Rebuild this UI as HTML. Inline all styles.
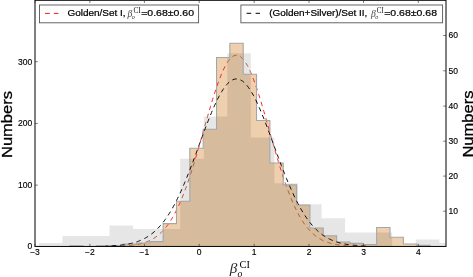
<!DOCTYPE html>
<html><head><meta charset="utf-8"><style>
html,body{margin:0;padding:0;background:#fff;}
body{width:473px;height:277px;overflow:hidden;}
svg{display:block;will-change:transform;}

</style></head><body>
<svg width="473" height="277" viewBox="0 0 473 277">
<defs><clipPath id="plot"><rect x="35" y="0" width="411" height="246.45"/></clipPath>
<clipPath id="gclip"><polygon points="38.85,246.45 38.85,242.94 62.41,242.94 62.41,235.91 85.97,235.91 85.97,235.91 109.52,235.91 109.52,225.38 133.08,225.38 133.08,228.89 156.64,228.89 156.64,228.89 180.20,228.89 180.20,158.65 203.76,158.65 203.76,116.51 227.31,116.51 227.31,53.29 250.87,53.29 250.87,137.58 274.43,137.58 274.43,183.23 297.99,183.23 297.99,204.31 321.55,204.31 321.55,218.35 345.10,218.35 345.10,232.40 368.66,232.40 368.66,232.40 392.22,232.40 392.22,246.45 415.78,246.45 415.78,239.43 439.34,239.43 439.34,242.94 445.70,242.94 445.70,246.45"/></clipPath>
<mask id="nogray" maskUnits="userSpaceOnUse" x="0" y="0" width="473" height="277"><rect width="473" height="277" fill="#fff"/><polygon points="38.85,246.45 38.85,242.94 62.41,242.94 62.41,235.91 85.97,235.91 85.97,235.91 109.52,235.91 109.52,225.38 133.08,225.38 133.08,228.89 156.64,228.89 156.64,228.89 180.20,228.89 180.20,158.65 203.76,158.65 203.76,116.51 227.31,116.51 227.31,53.29 250.87,53.29 250.87,137.58 274.43,137.58 274.43,183.23 297.99,183.23 297.99,204.31 321.55,204.31 321.55,218.35 345.10,218.35 345.10,232.40 368.66,232.40 368.66,232.40 392.22,232.40 392.22,246.45 415.78,246.45 415.78,239.43 439.34,239.43 439.34,242.94 445.70,242.94 445.70,246.45" fill="#000"/></mask></defs>
<rect width="473" height="277" fill="#fff"/>
<g clip-path="url(#plot)">
<polygon points="69.72,246.45 69.72,245.80 83.06,245.80 83.06,246.45 96.41,246.45 96.41,245.80 109.75,245.80 109.75,245.60 123.10,245.60 123.10,244.10 136.44,244.10 136.44,243.00 149.79,243.00 149.79,241.60 163.14,241.60 163.13,223.60 176.48,223.60 176.48,201.30 189.83,201.30 189.82,148.20 203.17,148.20 203.17,129.20 216.52,129.20 216.52,57.50 229.86,57.50 229.86,43.20 243.21,43.20 243.21,74.20 256.55,74.20 256.55,120.50 269.90,120.50 269.89,163.00 283.24,163.00 283.24,184.90 296.59,184.90 296.59,205.00 309.93,205.00 309.93,228.00 323.28,228.00 323.27,235.80 336.62,235.80 336.62,242.00 349.97,242.00 349.97,243.40 363.31,243.40 363.31,244.50 376.66,244.50 376.65,227.50 390.00,227.50 390.00,237.20 403.35,237.20 403.35,244.00 416.69,244.00 416.69,245.20 430.04,245.20 430.04,246.45" fill="#eed0af"/>
<path d="M120.11,246.09 L121.14,246.04 L122.17,246.00 L123.19,245.95 L124.22,245.89 L125.25,245.83 L126.27,245.76 L127.30,245.68 L128.33,245.60 L129.36,245.50 L130.38,245.40 L131.41,245.29 L132.44,245.17 L133.46,245.04 L134.49,244.89 L135.52,244.74 L136.55,244.57 L137.57,244.38 L138.60,244.18 L139.63,243.95 L140.65,243.72 L141.68,243.46 L142.71,243.18 L143.74,242.87 L144.76,242.54 L145.79,242.19 L146.82,241.81 L147.84,241.40 L148.87,240.96 L149.90,240.48 L150.93,239.98 L151.95,239.43 L152.98,238.85 L154.01,238.22 L155.03,237.56 L156.06,236.85 L157.09,236.09 L158.11,235.28 L159.14,234.42 L160.17,233.51 L161.20,232.55 L162.22,231.52 L163.25,230.44 L164.28,229.29 L165.30,228.08 L166.33,226.81 L167.36,225.46 L168.39,224.05 L169.41,222.56 L170.44,221.00 L171.47,219.37 L172.49,217.66 L173.52,215.87 L174.55,214.00 L175.58,212.04 L176.60,210.01 L177.63,207.90 L178.66,205.70 L179.68,203.42 L180.71,201.06 L181.74,198.61 L182.77,196.08 L183.79,193.47 L184.82,190.77 L185.85,188.00 L186.87,185.15 L187.90,182.22 L188.93,179.22 L189.96,176.15 L190.98,173.01 L192.01,169.80 L193.04,166.53 L194.06,163.20 L195.09,159.82 L196.12,156.39 L197.15,152.92 L198.17,149.40 L199.20,145.86 L200.23,142.28 L201.25,138.68 L202.28,135.07 L203.31,131.45 L204.34,127.82 L205.36,124.21 L206.39,120.60 L207.42,117.01 L208.44,113.46 L209.47,109.93 L210.50,106.46 L211.53,103.03 L212.55,99.66 L213.58,96.36 L214.61,93.14 L215.63,90.00 L216.66,86.95 L217.69,84.00 L218.72,81.15 L219.74,78.42 L220.77,75.82 L221.80,73.34 L222.82,71.00 L223.85,68.79 L224.88,66.74 L225.91,64.84 L226.93,63.10 L227.96,61.52 L228.99,60.12 L230.01,58.88 L231.04,57.82 L232.07,56.94 L233.10,56.24 L234.12,55.73 L235.15,55.40 L236.18,55.26 L237.20,55.30 L238.23,55.53 L239.26,55.95 L240.28,56.55 L241.31,57.33 L242.34,58.29 L243.37,59.44 L244.39,60.75 L245.42,62.24 L246.45,63.89 L247.47,65.71 L248.50,67.68 L249.53,69.80 L250.56,72.07 L251.58,74.48 L252.61,77.02 L253.64,79.68 L254.66,82.47 L255.69,85.36 L256.72,88.36 L257.75,91.45 L258.77,94.63 L259.80,97.89 L260.83,101.22 L261.85,104.62 L262.88,108.07 L263.91,111.57 L264.94,115.11 L265.96,118.68 L266.99,122.28 L268.02,125.89 L269.04,129.51 L270.07,133.14 L271.10,136.76 L272.13,140.36 L273.15,143.95 L274.18,147.51 L275.21,151.05 L276.23,154.54 L277.26,158.00 L278.29,161.41 L279.32,164.76 L280.34,168.06 L281.37,171.30 L282.40,174.48 L283.42,177.59 L284.45,180.63 L285.48,183.60 L286.51,186.49 L287.53,189.30 L288.56,192.04 L289.59,194.70 L290.61,197.27 L291.64,199.76 L292.67,202.17 L293.70,204.49 L294.72,206.74 L295.75,208.89 L296.78,210.97 L297.80,212.96 L298.83,214.88 L299.86,216.71 L300.89,218.46 L301.91,220.14 L302.94,221.74 L303.97,223.26 L304.99,224.72 L306.02,226.10 L307.05,227.41 L308.08,228.65 L309.10,229.83 L310.13,230.95 L311.16,232.01 L312.18,233.00 L313.21,233.94 L314.24,234.83 L315.27,235.66 L316.29,236.45 L317.32,237.18 L318.35,237.87 L319.37,238.52 L320.40,239.12 L321.43,239.69 L322.45,240.22 L323.48,240.71 L324.51,241.17 L325.54,241.59 L326.56,241.99 L327.59,242.36 L328.62,242.70 L329.64,243.02 L330.67,243.31 L331.70,243.58 L332.73,243.83 L333.75,244.06 L334.78,244.27 L335.81,244.47 L336.83,244.65 L337.86,244.81 L338.89,244.96 L339.92,245.10 L340.94,245.23 L341.97,245.34 L343.00,245.45 L344.02,245.55 L345.05,245.64 L346.08,245.72 L347.11,245.79 L348.13,245.86 L349.16,245.92 L350.19,245.97 L351.21,246.02 L352.24,246.06" fill="none" stroke="#ff1a1a" stroke-width="0.95" stroke-dasharray="4.5 3.9" stroke-dashoffset="7.62" mask="url(#nogray)"/>
<polygon points="38.85,246.45 38.85,242.94 62.41,242.94 62.41,235.91 85.97,235.91 85.97,235.91 109.52,235.91 109.52,225.38 133.08,225.38 133.08,228.89 156.64,228.89 156.64,228.89 180.20,228.89 180.20,158.65 203.76,158.65 203.76,116.51 227.31,116.51 227.31,53.29 250.87,53.29 250.87,137.58 274.43,137.58 274.43,183.23 297.99,183.23 297.99,204.31 321.55,204.31 321.55,218.35 345.10,218.35 345.10,232.40 368.66,232.40 368.66,232.40 392.22,232.40 392.22,246.45 415.78,246.45 415.78,239.43 439.34,239.43 439.34,242.94 445.70,242.94 445.70,246.45" fill="#000" fill-opacity="0.097"/>
<path d="M120.11,246.09 L121.14,246.04 L122.17,246.00 L123.19,245.95 L124.22,245.89 L125.25,245.83 L126.27,245.76 L127.30,245.68 L128.33,245.60 L129.36,245.50 L130.38,245.40 L131.41,245.29 L132.44,245.17 L133.46,245.04 L134.49,244.89 L135.52,244.74 L136.55,244.57 L137.57,244.38 L138.60,244.18 L139.63,243.95 L140.65,243.72 L141.68,243.46 L142.71,243.18 L143.74,242.87 L144.76,242.54 L145.79,242.19 L146.82,241.81 L147.84,241.40 L148.87,240.96 L149.90,240.48 L150.93,239.98 L151.95,239.43 L152.98,238.85 L154.01,238.22 L155.03,237.56 L156.06,236.85 L157.09,236.09 L158.11,235.28 L159.14,234.42 L160.17,233.51 L161.20,232.55 L162.22,231.52 L163.25,230.44 L164.28,229.29 L165.30,228.08 L166.33,226.81 L167.36,225.46 L168.39,224.05 L169.41,222.56 L170.44,221.00 L171.47,219.37 L172.49,217.66 L173.52,215.87 L174.55,214.00 L175.58,212.04 L176.60,210.01 L177.63,207.90 L178.66,205.70 L179.68,203.42 L180.71,201.06 L181.74,198.61 L182.77,196.08 L183.79,193.47 L184.82,190.77 L185.85,188.00 L186.87,185.15 L187.90,182.22 L188.93,179.22 L189.96,176.15 L190.98,173.01 L192.01,169.80 L193.04,166.53 L194.06,163.20 L195.09,159.82 L196.12,156.39 L197.15,152.92 L198.17,149.40 L199.20,145.86 L200.23,142.28 L201.25,138.68 L202.28,135.07 L203.31,131.45 L204.34,127.82 L205.36,124.21 L206.39,120.60 L207.42,117.01 L208.44,113.46 L209.47,109.93 L210.50,106.46 L211.53,103.03 L212.55,99.66 L213.58,96.36 L214.61,93.14 L215.63,90.00 L216.66,86.95 L217.69,84.00 L218.72,81.15 L219.74,78.42 L220.77,75.82 L221.80,73.34 L222.82,71.00 L223.85,68.79 L224.88,66.74 L225.91,64.84 L226.93,63.10 L227.96,61.52 L228.99,60.12 L230.01,58.88 L231.04,57.82 L232.07,56.94 L233.10,56.24 L234.12,55.73 L235.15,55.40 L236.18,55.26 L237.20,55.30 L238.23,55.53 L239.26,55.95 L240.28,56.55 L241.31,57.33 L242.34,58.29 L243.37,59.44 L244.39,60.75 L245.42,62.24 L246.45,63.89 L247.47,65.71 L248.50,67.68 L249.53,69.80 L250.56,72.07 L251.58,74.48 L252.61,77.02 L253.64,79.68 L254.66,82.47 L255.69,85.36 L256.72,88.36 L257.75,91.45 L258.77,94.63 L259.80,97.89 L260.83,101.22 L261.85,104.62 L262.88,108.07 L263.91,111.57 L264.94,115.11 L265.96,118.68 L266.99,122.28 L268.02,125.89 L269.04,129.51 L270.07,133.14 L271.10,136.76 L272.13,140.36 L273.15,143.95 L274.18,147.51 L275.21,151.05 L276.23,154.54 L277.26,158.00 L278.29,161.41 L279.32,164.76 L280.34,168.06 L281.37,171.30 L282.40,174.48 L283.42,177.59 L284.45,180.63 L285.48,183.60 L286.51,186.49 L287.53,189.30 L288.56,192.04 L289.59,194.70 L290.61,197.27 L291.64,199.76 L292.67,202.17 L293.70,204.49 L294.72,206.74 L295.75,208.89 L296.78,210.97 L297.80,212.96 L298.83,214.88 L299.86,216.71 L300.89,218.46 L301.91,220.14 L302.94,221.74 L303.97,223.26 L304.99,224.72 L306.02,226.10 L307.05,227.41 L308.08,228.65 L309.10,229.83 L310.13,230.95 L311.16,232.01 L312.18,233.00 L313.21,233.94 L314.24,234.83 L315.27,235.66 L316.29,236.45 L317.32,237.18 L318.35,237.87 L319.37,238.52 L320.40,239.12 L321.43,239.69 L322.45,240.22 L323.48,240.71 L324.51,241.17 L325.54,241.59 L326.56,241.99 L327.59,242.36 L328.62,242.70 L329.64,243.02 L330.67,243.31 L331.70,243.58 L332.73,243.83 L333.75,244.06 L334.78,244.27 L335.81,244.47 L336.83,244.65 L337.86,244.81 L338.89,244.96 L339.92,245.10 L340.94,245.23 L341.97,245.34 L343.00,245.45 L344.02,245.55 L345.05,245.64 L346.08,245.72 L347.11,245.79 L348.13,245.86 L349.16,245.92 L350.19,245.97 L351.21,246.02 L352.24,246.06" fill="none" stroke="#b85a24" stroke-width="0.95" stroke-dasharray="4.5 3.9" stroke-dashoffset="7.62" clip-path="url(#gclip)"/>
<path d="M69.72,246.45 L69.72,245.80 L83.06,245.80 L83.06,246.45 L96.41,246.45 L96.41,245.80 L109.75,245.80 L109.75,245.60 L123.10,245.60 L123.10,244.10 L136.44,244.10 L136.44,243.00 L149.79,243.00 L149.79,241.60 L163.14,241.60 L163.13,223.60 L176.48,223.60 L176.48,201.30 L189.83,201.30 L189.82,148.20 L203.17,148.20 L203.17,129.20 L216.52,129.20 L216.52,57.50 L229.86,57.50 L229.86,43.20 L243.21,43.20 L243.21,74.20 L256.55,74.20 L256.55,120.50 L269.90,120.50 L269.89,163.00 L283.24,163.00 L283.24,184.90 L296.59,184.90 L296.59,205.00 L309.93,205.00 L309.93,228.00 L323.28,228.00 L323.27,235.80 L336.62,235.80 L336.62,242.00 L349.97,242.00 L349.97,243.40 L363.31,243.40 L363.31,244.50 L376.66,244.50 L376.65,227.50 L390.00,227.50 L390.00,237.20 L403.35,237.20 L403.35,244.00 L416.69,244.00 L416.69,245.20 L430.04,245.20 L430.04,246.45" fill="none" stroke="#a3a6aa" stroke-width="1.1"/>
<path d="M105.73,246.10 L106.76,246.06 L107.79,246.02 L108.81,245.98 L109.84,245.93 L110.87,245.88 L111.89,245.82 L112.92,245.76 L113.95,245.70 L114.98,245.63 L116.00,245.55 L117.03,245.47 L118.06,245.38 L119.08,245.28 L120.11,245.17 L121.14,245.06 L122.17,244.94 L123.19,244.80 L124.22,244.66 L125.25,244.51 L126.27,244.34 L127.30,244.16 L128.33,243.97 L129.36,243.76 L130.38,243.54 L131.41,243.31 L132.44,243.05 L133.46,242.78 L134.49,242.49 L135.52,242.19 L136.55,241.86 L137.57,241.51 L138.60,241.13 L139.63,240.74 L140.65,240.31 L141.68,239.87 L142.71,239.39 L143.74,238.89 L144.76,238.35 L145.79,237.79 L146.82,237.19 L147.84,236.56 L148.87,235.89 L149.90,235.19 L150.93,234.45 L151.95,233.67 L152.98,232.85 L154.01,231.98 L155.03,231.08 L156.06,230.13 L157.09,229.14 L158.11,228.10 L159.14,227.01 L160.17,225.87 L161.20,224.68 L162.22,223.45 L163.25,222.16 L164.28,220.81 L165.30,219.42 L166.33,217.97 L167.36,216.46 L168.39,214.90 L169.41,213.28 L170.44,211.61 L171.47,209.87 L172.49,208.09 L173.52,206.24 L174.55,204.34 L175.58,202.38 L176.60,200.37 L177.63,198.30 L178.66,196.18 L179.68,194.00 L180.71,191.77 L181.74,189.49 L182.77,187.16 L183.79,184.78 L184.82,182.35 L185.85,179.88 L186.87,177.36 L187.90,174.81 L188.93,172.22 L189.96,169.59 L190.98,166.93 L192.01,164.23 L193.04,161.52 L194.06,158.78 L195.09,156.02 L196.12,153.24 L197.15,150.45 L198.17,147.66 L199.20,144.86 L200.23,142.06 L201.25,139.26 L202.28,136.47 L203.31,133.70 L204.34,130.94 L205.36,128.21 L206.39,125.50 L207.42,122.83 L208.44,120.19 L209.47,117.59 L210.50,115.04 L211.53,112.55 L212.55,110.10 L213.58,107.72 L214.61,105.41 L215.63,103.16 L216.66,100.99 L217.69,98.90 L218.72,96.90 L219.74,94.98 L220.77,93.15 L221.80,91.42 L222.82,89.79 L223.85,88.26 L224.88,86.84 L225.91,85.53 L226.93,84.33 L227.96,83.25 L228.99,82.28 L230.01,81.43 L231.04,80.71 L232.07,80.11 L233.10,79.63 L234.12,79.28 L235.15,79.05 L236.18,78.95 L237.20,78.98 L238.23,79.14 L239.26,79.43 L240.28,79.84 L241.31,80.37 L242.34,81.03 L243.37,81.81 L244.39,82.72 L245.42,83.74 L246.45,84.88 L247.47,86.13 L248.50,87.49 L249.53,88.96 L250.56,90.54 L251.58,92.22 L252.61,93.99 L253.64,95.86 L254.66,97.82 L255.69,99.87 L256.72,102.00 L257.75,104.20 L258.77,106.48 L259.80,108.83 L260.83,111.24 L261.85,113.70 L262.88,116.23 L263.91,118.80 L264.94,121.41 L265.96,124.07 L266.99,126.76 L268.02,129.48 L269.04,132.22 L270.07,134.99 L271.10,137.77 L272.13,140.56 L273.15,143.36 L274.18,146.16 L275.21,148.96 L276.23,151.76 L277.26,154.54 L278.29,157.31 L279.32,160.06 L280.34,162.79 L281.37,165.49 L282.40,168.17 L283.42,170.82 L284.45,173.43 L285.48,176.01 L286.51,178.54 L287.53,181.04 L288.56,183.49 L289.59,185.89 L290.61,188.25 L291.64,190.56 L292.67,192.82 L293.70,195.02 L294.72,197.18 L295.75,199.27 L296.78,201.32 L297.80,203.30 L298.83,205.24 L299.86,207.11 L300.89,208.93 L301.91,210.69 L302.94,212.39 L303.97,214.04 L304.99,215.63 L306.02,217.17 L307.05,218.65 L308.08,220.08 L309.10,221.45 L310.13,222.76 L311.16,224.03 L312.18,225.24 L313.21,226.41 L314.24,227.52 L315.27,228.59 L316.29,229.61 L317.32,230.58 L318.35,231.51 L319.37,232.39 L320.40,233.23 L321.43,234.03 L322.45,234.80 L323.48,235.52 L324.51,236.20 L325.54,236.86 L326.56,237.47 L327.59,238.05 L328.62,238.60 L329.64,239.12 L330.67,239.62 L331.70,240.08 L332.73,240.51 L333.75,240.92 L334.78,241.31 L335.81,241.67 L336.83,242.01 L337.86,242.33 L338.89,242.63 L339.92,242.91 L340.94,243.17 L341.97,243.42 L343.00,243.65 L344.02,243.86 L345.05,244.06 L346.08,244.25 L347.11,244.42 L348.13,244.58 L349.16,244.73 L350.19,244.87 L351.21,244.99 L352.24,245.11 L353.27,245.22 L354.30,245.33 L355.32,245.42 L356.35,245.51 L357.38,245.59 L358.40,245.66 L359.43,245.73 L360.46,245.79 L361.49,245.85 L362.51,245.90 L363.54,245.95 L364.57,246.00 L365.59,246.04 L366.62,246.08" fill="none" stroke="#000" stroke-width="0.95" stroke-dasharray="4.5 3.9" stroke-dashoffset="2.42"/>
</g>
<rect x="35" y="0.3" width="411" height="246.15" fill="none" stroke="#000" stroke-width="1"/>
<line x1="35.00" y1="246.45" x2="35.00" y2="243.85" stroke="#222" stroke-width="0.6"/>
<line x1="35.00" y1="0.5" x2="35.00" y2="3.0" stroke="#222" stroke-width="0.6"/>
<line x1="89.90" y1="246.45" x2="89.90" y2="243.85" stroke="#222" stroke-width="0.6"/>
<line x1="89.90" y1="0.5" x2="89.90" y2="3.0" stroke="#222" stroke-width="0.6"/>
<line x1="144.40" y1="246.45" x2="144.40" y2="243.85" stroke="#222" stroke-width="0.6"/>
<line x1="144.40" y1="0.5" x2="144.40" y2="3.0" stroke="#222" stroke-width="0.6"/>
<line x1="199.20" y1="246.45" x2="199.20" y2="243.85" stroke="#222" stroke-width="0.6"/>
<line x1="199.20" y1="0.5" x2="199.20" y2="3.0" stroke="#222" stroke-width="0.6"/>
<line x1="254.20" y1="246.45" x2="254.20" y2="243.85" stroke="#222" stroke-width="0.6"/>
<line x1="254.20" y1="0.5" x2="254.20" y2="3.0" stroke="#222" stroke-width="0.6"/>
<line x1="309.00" y1="246.45" x2="309.00" y2="243.85" stroke="#222" stroke-width="0.6"/>
<line x1="309.00" y1="0.5" x2="309.00" y2="3.0" stroke="#222" stroke-width="0.6"/>
<line x1="363.50" y1="246.45" x2="363.50" y2="243.85" stroke="#222" stroke-width="0.6"/>
<line x1="363.50" y1="0.5" x2="363.50" y2="3.0" stroke="#222" stroke-width="0.6"/>
<line x1="418.30" y1="246.45" x2="418.30" y2="243.85" stroke="#222" stroke-width="0.6"/>
<line x1="418.30" y1="0.5" x2="418.30" y2="3.0" stroke="#222" stroke-width="0.6"/>
<line x1="35" y1="246.45" x2="37.8" y2="246.45" stroke="#222" stroke-width="0.6"/>
<line x1="35" y1="185.10" x2="37.8" y2="185.10" stroke="#222" stroke-width="0.6"/>
<line x1="35" y1="123.45" x2="37.8" y2="123.45" stroke="#222" stroke-width="0.6"/>
<line x1="35" y1="61.70" x2="37.8" y2="61.70" stroke="#222" stroke-width="0.6"/>
<line x1="443.2" y1="211.20" x2="446" y2="211.20" stroke="#222" stroke-width="0.6"/>
<line x1="443.2" y1="176.10" x2="446" y2="176.10" stroke="#222" stroke-width="0.6"/>
<line x1="443.2" y1="141.20" x2="446" y2="141.20" stroke="#222" stroke-width="0.6"/>
<line x1="443.2" y1="106.10" x2="446" y2="106.10" stroke="#222" stroke-width="0.6"/>
<line x1="443.2" y1="70.80" x2="446" y2="70.80" stroke="#222" stroke-width="0.6"/>
<line x1="443.2" y1="35.50" x2="446" y2="35.50" stroke="#222" stroke-width="0.6"/>
<text x="35.00" y="255.3" font-family="Liberation Sans, sans-serif" font-size="8.5" text-anchor="middle" fill="#000" stroke="#000" stroke-width="0.15">−3</text>
<text x="89.90" y="255.3" font-family="Liberation Sans, sans-serif" font-size="8.5" text-anchor="middle" fill="#000" stroke="#000" stroke-width="0.15">−2</text>
<text x="144.40" y="255.3" font-family="Liberation Sans, sans-serif" font-size="8.5" text-anchor="middle" fill="#000" stroke="#000" stroke-width="0.15">−1</text>
<text x="199.20" y="255.3" font-family="Liberation Sans, sans-serif" font-size="8.5" text-anchor="middle" fill="#000" stroke="#000" stroke-width="0.15">0</text>
<text x="254.20" y="255.3" font-family="Liberation Sans, sans-serif" font-size="8.5" text-anchor="middle" fill="#000" stroke="#000" stroke-width="0.15">1</text>
<text x="309.00" y="255.3" font-family="Liberation Sans, sans-serif" font-size="8.5" text-anchor="middle" fill="#000" stroke="#000" stroke-width="0.15">2</text>
<text x="363.50" y="255.3" font-family="Liberation Sans, sans-serif" font-size="8.5" text-anchor="middle" fill="#000" stroke="#000" stroke-width="0.15">3</text>
<text x="418.30" y="255.3" font-family="Liberation Sans, sans-serif" font-size="8.5" text-anchor="middle" fill="#000" stroke="#000" stroke-width="0.15">4</text>
<text x="32.2" y="249.35" font-family="Liberation Sans, sans-serif" font-size="8.5" text-anchor="end" fill="#000" stroke="#000" stroke-width="0.15">0</text>
<text x="32.2" y="188.00" font-family="Liberation Sans, sans-serif" font-size="8.5" text-anchor="end" fill="#000" stroke="#000" stroke-width="0.15">100</text>
<text x="32.2" y="126.35" font-family="Liberation Sans, sans-serif" font-size="8.5" text-anchor="end" fill="#000" stroke="#000" stroke-width="0.15">200</text>
<text x="32.2" y="64.60" font-family="Liberation Sans, sans-serif" font-size="8.5" text-anchor="end" fill="#000" stroke="#000" stroke-width="0.15">300</text>
<text x="448.6" y="214.10" font-family="Liberation Sans, sans-serif" font-size="8.5" fill="#000" stroke="#000" stroke-width="0.15">10</text>
<text x="448.6" y="179.00" font-family="Liberation Sans, sans-serif" font-size="8.5" fill="#000" stroke="#000" stroke-width="0.15">20</text>
<text x="448.6" y="144.10" font-family="Liberation Sans, sans-serif" font-size="8.5" fill="#000" stroke="#000" stroke-width="0.15">30</text>
<text x="448.6" y="109.00" font-family="Liberation Sans, sans-serif" font-size="8.5" fill="#000" stroke="#000" stroke-width="0.15">40</text>
<text x="448.6" y="73.70" font-family="Liberation Sans, sans-serif" font-size="8.5" fill="#000" stroke="#000" stroke-width="0.15">50</text>
<text x="448.6" y="38.40" font-family="Liberation Sans, sans-serif" font-size="8.5" fill="#000" stroke="#000" stroke-width="0.15">60</text>
<text transform="translate(11.7,158.0) rotate(-90)" font-family="Liberation Sans, sans-serif" font-size="15" textLength="67" lengthAdjust="spacingAndGlyphs" fill="#000" stroke="#000" stroke-width="0.3">Numbers</text>
<text transform="translate(473.3,157.6) rotate(-90)" font-family="Liberation Sans, sans-serif" font-size="15" textLength="67" lengthAdjust="spacingAndGlyphs" fill="#000" stroke="#000" stroke-width="0.3">Numbers</text>
<text x="229.8" y="272.6" font-family="Liberation Serif, serif" font-style="italic" font-size="15.2" fill="#2a2a2a">β</text>
<text x="239.5" y="267.7" font-family="Liberation Serif, serif" font-size="9.4" textLength="10.4" lengthAdjust="spacingAndGlyphs" fill="#000">CI</text>
<text x="237.6" y="277.2" font-family="Liberation Serif, serif" font-style="italic" font-size="9.6" fill="#000">o</text>
<rect x="39.5" y="5.0" width="159.1" height="17.8" fill="#fff" stroke="#555" stroke-width="0.9"/>
<line x1="45" y1="13.4" x2="58.4" y2="13.4" stroke="#ff1a1a" stroke-width="1.0" stroke-dasharray="4.8 4"/>
<text x="67.40" y="16.30" font-family="Liberation Sans, sans-serif"  font-size="9.40" fill="#000" stroke="#000" stroke-width="0.22" textLength="58.20" lengthAdjust="spacingAndGlyphs">Golden/Set I,</text>
<text x="127.50" y="16.80" font-family="Liberation Serif, serif" font-style="italic" font-size="9.60" fill="#444">β</text>
<text x="131.80" y="18.60" font-family="Liberation Serif, serif" font-style="italic" font-size="6.00" fill="#333">o</text>
<text x="133.50" y="13.20" font-family="Liberation Serif, serif"  font-size="7.20" fill="#111" textLength="7.30" lengthAdjust="spacingAndGlyphs">CI</text>
<text x="141.20" y="16.30" font-family="Liberation Sans, sans-serif"  font-size="9.40" fill="#000" stroke="#000" stroke-width="0.22" textLength="52.80" lengthAdjust="spacingAndGlyphs">=0.68±0.60</text>
<rect x="240.9" y="5.0" width="201.7" height="17.8" fill="#fff" stroke="#555" stroke-width="0.9"/>
<line x1="246.6" y1="13.3" x2="260" y2="13.3" stroke="#000" stroke-width="1.0" stroke-dasharray="4.6 4.4"/>
<text x="269.20" y="16.30" font-family="Liberation Sans, sans-serif"  font-size="9.40" fill="#000" stroke="#000" stroke-width="0.22" textLength="98.20" lengthAdjust="spacingAndGlyphs">(Golden+Silver)/Set II,</text>
<text x="371.00" y="16.80" font-family="Liberation Serif, serif" font-style="italic" font-size="9.60" fill="#444">β</text>
<text x="375.20" y="18.60" font-family="Liberation Serif, serif" font-style="italic" font-size="6.00" fill="#333">o</text>
<text x="376.70" y="13.10" font-family="Liberation Serif, serif"  font-size="7.20" fill="#111" textLength="7.00" lengthAdjust="spacingAndGlyphs">CI</text>
<text x="384.20" y="16.30" font-family="Liberation Sans, sans-serif"  font-size="9.40" fill="#000" stroke="#000" stroke-width="0.22" textLength="52.80" lengthAdjust="spacingAndGlyphs">=0.68±0.68</text>
</svg>
</body></html>
